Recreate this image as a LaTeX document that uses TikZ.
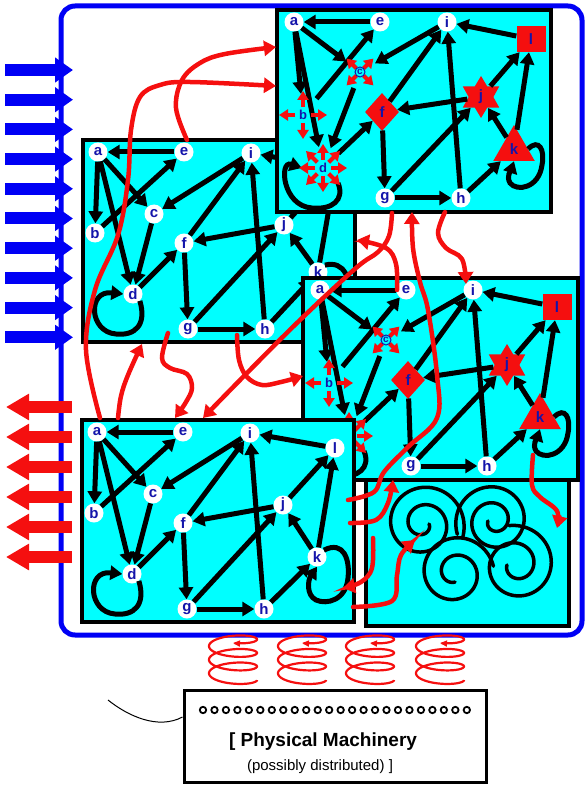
\documentclass[tikz,border=0pt]{standalone}
\usepackage{fontspec}
\setmainfont{Liberation Sans}
\usetikzlibrary{arrows.meta,shapes.geometric,calc}
\definecolor{cyanbg}{RGB}{0,255,255}
\definecolor{lblue}{RGB}{20,20,170}
\definecolor{myred}{RGB}{245,15,15}
\definecolor{fblue}{RGB}{0,0,245}
\tikzset{
  panelbox/.style={fill=cyanbg,draw=black,line width=4pt},
  lbl/.style={text=lblue,font=\fontsize{15}{15}\selectfont\bfseries,inner sep=0pt},
  wn/.style={lbl,circle,fill=white,minimum size=19pt},
  sqn/.style={lbl,rectangle,fill=myred,minimum width=29pt,minimum height=26pt},
  starn/.style={lbl,star,star points=6,star point ratio=1.7,fill=myred,minimum size=42pt},
  dian/.style={lbl,diamond,fill=myred,minimum width=34pt,minimum height=38pt},
  trin/.style={lbl,regular polygon,regular polygon sides=3,fill=myred,minimum size=48pt},
  armline/.style={draw=myred,line width=4pt,-{Triangle[length=9pt,width=11pt]}},
  armc/.style={lbl,circle,minimum size=34pt,font=\fontsize{10}{10}\selectfont\bfseries},
  armb/.style={lbl,circle,minimum size=42pt,font=\fontsize{13}{13}\selectfont\bfseries},
  armd/.style={lbl,circle,minimum size=42pt,font=\fontsize{13}{13}\selectfont\bfseries},
  gedge/.style={line width=5pt,-{Triangle[length=12pt,width=14pt]}},
  redflow/.style={draw=myred,line width=4.5pt,line cap=round,-{Triangle[length=12pt,width=15pt]}},
  coil/.style={draw=myred,line width=2.2pt,-{Triangle[length=7pt,width=6pt]}},
  spiralline/.style={line width=3.5pt,line cap=round},
  bigblue/.style={draw=fblue,line width=12pt,-{Triangle[length=18pt,width=24pt]}},
  bigred/.style={draw=myred,line width=12pt,-{Triangle[length=23pt,width=25pt]}},
}
\newcommand\graphedges[1]{%
  \foreach \ea/\eb in {e/a,a/b,a/c,a/d,b/e,c/d,i/c,f/i,d/f,j/f,f/g,g/j,g/h,h/i,h/k,k/j,j/l,k/l,l/i}{\draw[gedge] (#1\ea) -- (#1\eb);}%
}
\newcommand\whitegraph[2]{%
  \node[wn] (#1a) at (15,12) {a};
  \node[wn] (#1e) at (101,12) {e};
  \node[wn] (#1i) at (168,13) {i};
  \node[wn] (#1l) at (253,28) {l};
  \node[wn] (#1b) at (12,93) {b};
  \node[wn] (#1c) at (71,74) {c};
  \node[wn] (#1j) at (201,85) {j};
  \node[wn] (#1f) at (101,103) {f};
  \node[wn] (#1k) at (235,#2) {k};
  \node[wn] (#1d) at (50,154) {d};
  \node[wn] (#1g) at (105,189) {g};
  \node[wn] (#1h) at (182,189) {h};
  \graphedges{#1}%
  \draw[gedge] (#1d.south east) .. controls (64,185) and (52,196) .. (33,194) .. controls (6,192) and (4,150) .. (#1d.west);
  \draw[gedge] (#1k.north east) .. controls (262,120) and (268,140) .. (266,158) .. controls (264,180) and (245,185) .. (234,180) .. controls (224,175) and (226,160) .. (#1k.south);
}
\newcommand\redgraph[1]{%
  \node[wn] (#1a) at (17,12) {a};
  \node[wn] (#1e) at (103,12) {e};
  \node[wn] (#1i) at (170,12) {i};
  \node[sqn] (#1l) at (254,29) {l};
  \node[armb] (#1b) at (26,105) {b};
  \node[armc] (#1c) at (83,62) {c};
  \node[starn] (#1j) at (204,87) {j};
  \node[dian] (#1f) at (105,102) {f};
  \node[trin] (#1k) at (237,139) {k};
  \node[armd] (#1d) at (46,158) {d};
  \node[wn] (#1g) at (108,188) {g};
  \node[wn] (#1h) at (184,188) {h};
  \graphedges{#1}%
  \draw[gedge] (#1d.south east) .. controls (68,190) and (55,200) .. (35,198) .. controls (5,196) and (2,150) .. (#1d.west);
  \draw[gedge] (#1k.east) .. controls (262,128) and (268,140) .. (265,155) .. controls (262,178) and (240,182) .. (233,173) .. controls (229,166) and (234,160) .. (#1k.south);
  \foreach \q in {45,135,225,315}{\draw[armline] (#1c) ++(\q:5pt) -- ++(\q:14pt);}
  \draw[lblue,line width=1pt] (#1c) circle (5pt);
  \foreach \q in {0,90,180,270}{\draw[armline] (#1b) ++(\q:8pt) -- ++(\q:16pt);}
  \foreach \q in {0,45,...,315}{\draw[armline] (#1d) ++(\q:8pt) -- ++(\q:16pt);}
}
\begin{document}
\begin{tikzpicture}[x=1pt,y=-1pt]
\useasboundingbox (0,0) rectangle (586,786);
% frame
\draw[fblue,line width=5pt,rounded corners=14pt] (61,6) rectangle (582,635);
% panels
\begin{scope}[shift={(83,140)}]
  \draw[panelbox] (0,0) rectangle (272,202);
  \whitegraph{B}{132}
\end{scope}
\begin{scope}[shift={(277,10)}]
  \draw[panelbox] (0,0) rectangle (274,202);
  \redgraph{A}
\end{scope}
\begin{scope}
  \draw[panelbox] (366,479) rectangle (569,626);
  \draw[spiralline] plot[domain=0:740,samples=160,smooth,variable=\w] ({423+(6+\w/740*36)*cos(\w)},{524+(6+\w/740*36)*sin(\w)});
  \draw[spiralline] plot[domain=0:740,samples=160,smooth,variable=\w] ({494+(6+\w/740*33)*cos(\w+180)},{521-(6+\w/740*33)*sin(\w+180)});
  \draw[spiralline] plot[domain=0:620,samples=160,smooth,variable=\w] ({455+(9+\w/620*30)*cos(\w+90)},{573+(9+\w/620*30)*sin(\w+90)});
  \draw[spiralline] plot[domain=0:640,samples=160,smooth,variable=\w] ({516-(9+\w/640*31)*cos(\w)},{565+(9+\w/640*31)*sin(\w)});
\end{scope}
\begin{scope}[shift={(303,278)}]
  \draw[panelbox] (0,0) rectangle (275,202);
  \redgraph{C}
\end{scope}
\begin{scope}[shift={(82,420)}]
  \draw[panelbox] (0,0) rectangle (272,202);
  \whitegraph{D}{137}
\end{scope}
% red flows between panels
\coordinate (r1s) at (100,418); \coordinate (r1e) at (276,86);
\coordinate (r2s) at (187,140); \coordinate (r2e) at (276,47);
\coordinate (r3s) at (118,418); \coordinate (r3e) at (142,344);
\coordinate (r4s) at (168,333); \coordinate (r4e) at (175,418);
\coordinate (r5s) at (237,335); \coordinate (r5e) at (303,376);
\coordinate (r6s) at (392,213); \coordinate (r6e) at (203,418);
\coordinate (r7s) at (397,290); \coordinate (r7e) at (357,240);
\coordinate (r8s) at (348,500); \coordinate (r8e) at (412,212);
\coordinate (r9s) at (350,523); \coordinate (r9e) at (393,480);
\coordinate (r10s) at (445,212); \coordinate (r10e) at (466,284);
\coordinate (r11s) at (373,538); \coordinate (r11e) at (343,588);
\coordinate (r12s) at (353,607); \coordinate (r12e) at (415,540);
\coordinate (r13s) at (533,455); \coordinate (r13e) at (557,528);
\draw[redflow] plot[smooth,tension=0.6] coordinates {(r1s) (86,350) (95,290) (118,235) (128,180) (131,130) (140,97) (160,85) (190,82) (r1e)};
\draw[redflow] plot[smooth,tension=0.6] coordinates {(r2s) (176,108) (182,80) (200,63) (225,54) (r2e)};
\draw[redflow] plot[smooth,tension=0.6] coordinates {(r3s) (121,396) (128,375) (r3e)};
\draw[redflow] plot[smooth,tension=0.6] coordinates {(r4s) (162,358) (170,368) (187,374) (192,388) (186,402) (r4e)};
\draw[redflow] plot[smooth,tension=0.6] coordinates {(r5s) (239,360) (247,377) (262,385) (281,382) (r5e)};
\draw[redflow] plot[smooth,tension=0.6] coordinates {(r6s) (389,236) (378,252) (356,268) (300,320) (245,375) (r6e)};
\draw[redflow] plot[smooth,tension=0.6] coordinates {(r7s) (396,264) (386,248) (r7e)};
\draw[redflow] plot[smooth,tension=0.6] coordinates {(r8s) (374,492) (384,472) (408,447) (437,418) (437,375) (428,310) (420,282) (413,248) (r8e)};
\draw[redflow] plot[smooth,tension=0.6] coordinates {(r9s) (376,520) (388,503) (r9e)};
\draw[redflow] plot[smooth,tension=0.6] coordinates {(r10s) (438,233) (446,248) (462,259) (r10e)};
\draw[redflow] plot[smooth,tension=0.6] coordinates {(r11s) (372,568) (361,582) (r11e)};
\draw[redflow] plot[smooth,tension=0.6] coordinates {(r12s) (392,601) (397,575) (401,555) (r12e)};
\draw[redflow] plot[smooth,tension=0.6] coordinates {(r13s) (532,485) (540,497) (557,511) (r13e)};
% side arrows
\foreach \k in {0,...,9}{\draw[bigblue] (5,{70+\k*29.7}) -- (73,{70+\k*29.7});}
\foreach \yy in {407,437,467,497,527,557}{\draw[bigred] (72,\yy) -- (6,\yy);}
% machinery
\node[draw,line width=3pt,minimum width=302pt,minimum height=92pt,inner sep=0pt] (pm) at (335,736.5) {};
\foreach \k in {0,...,23}{\draw[line width=1.8pt,fill=white] ({203+\k*11.47},710) circle (3.2pt);}
\node[font=\fontsize{19}{19}\selectfont\bfseries] (pmt1) at (323,742) {[ Physical Machinery};
\node[font=\fontsize{15}{15}\selectfont] (pmt2) at (320,767) {(possibly distributed) ]};
\foreach \cx in {233,302,370,440}{\draw[coil] plot[domain=0:1170,samples=220,smooth,variable=\w] ({\cx+24*cos(\w)},{680-\w/1170*44+7*sin(\w)});}
\coordinate (wire) at (108,700);
\draw[line width=1pt] (wire) .. controls (128,716) and (158,730) .. ($(pm.north west)+(0,28)$);
\end{tikzpicture}
\end{document}
